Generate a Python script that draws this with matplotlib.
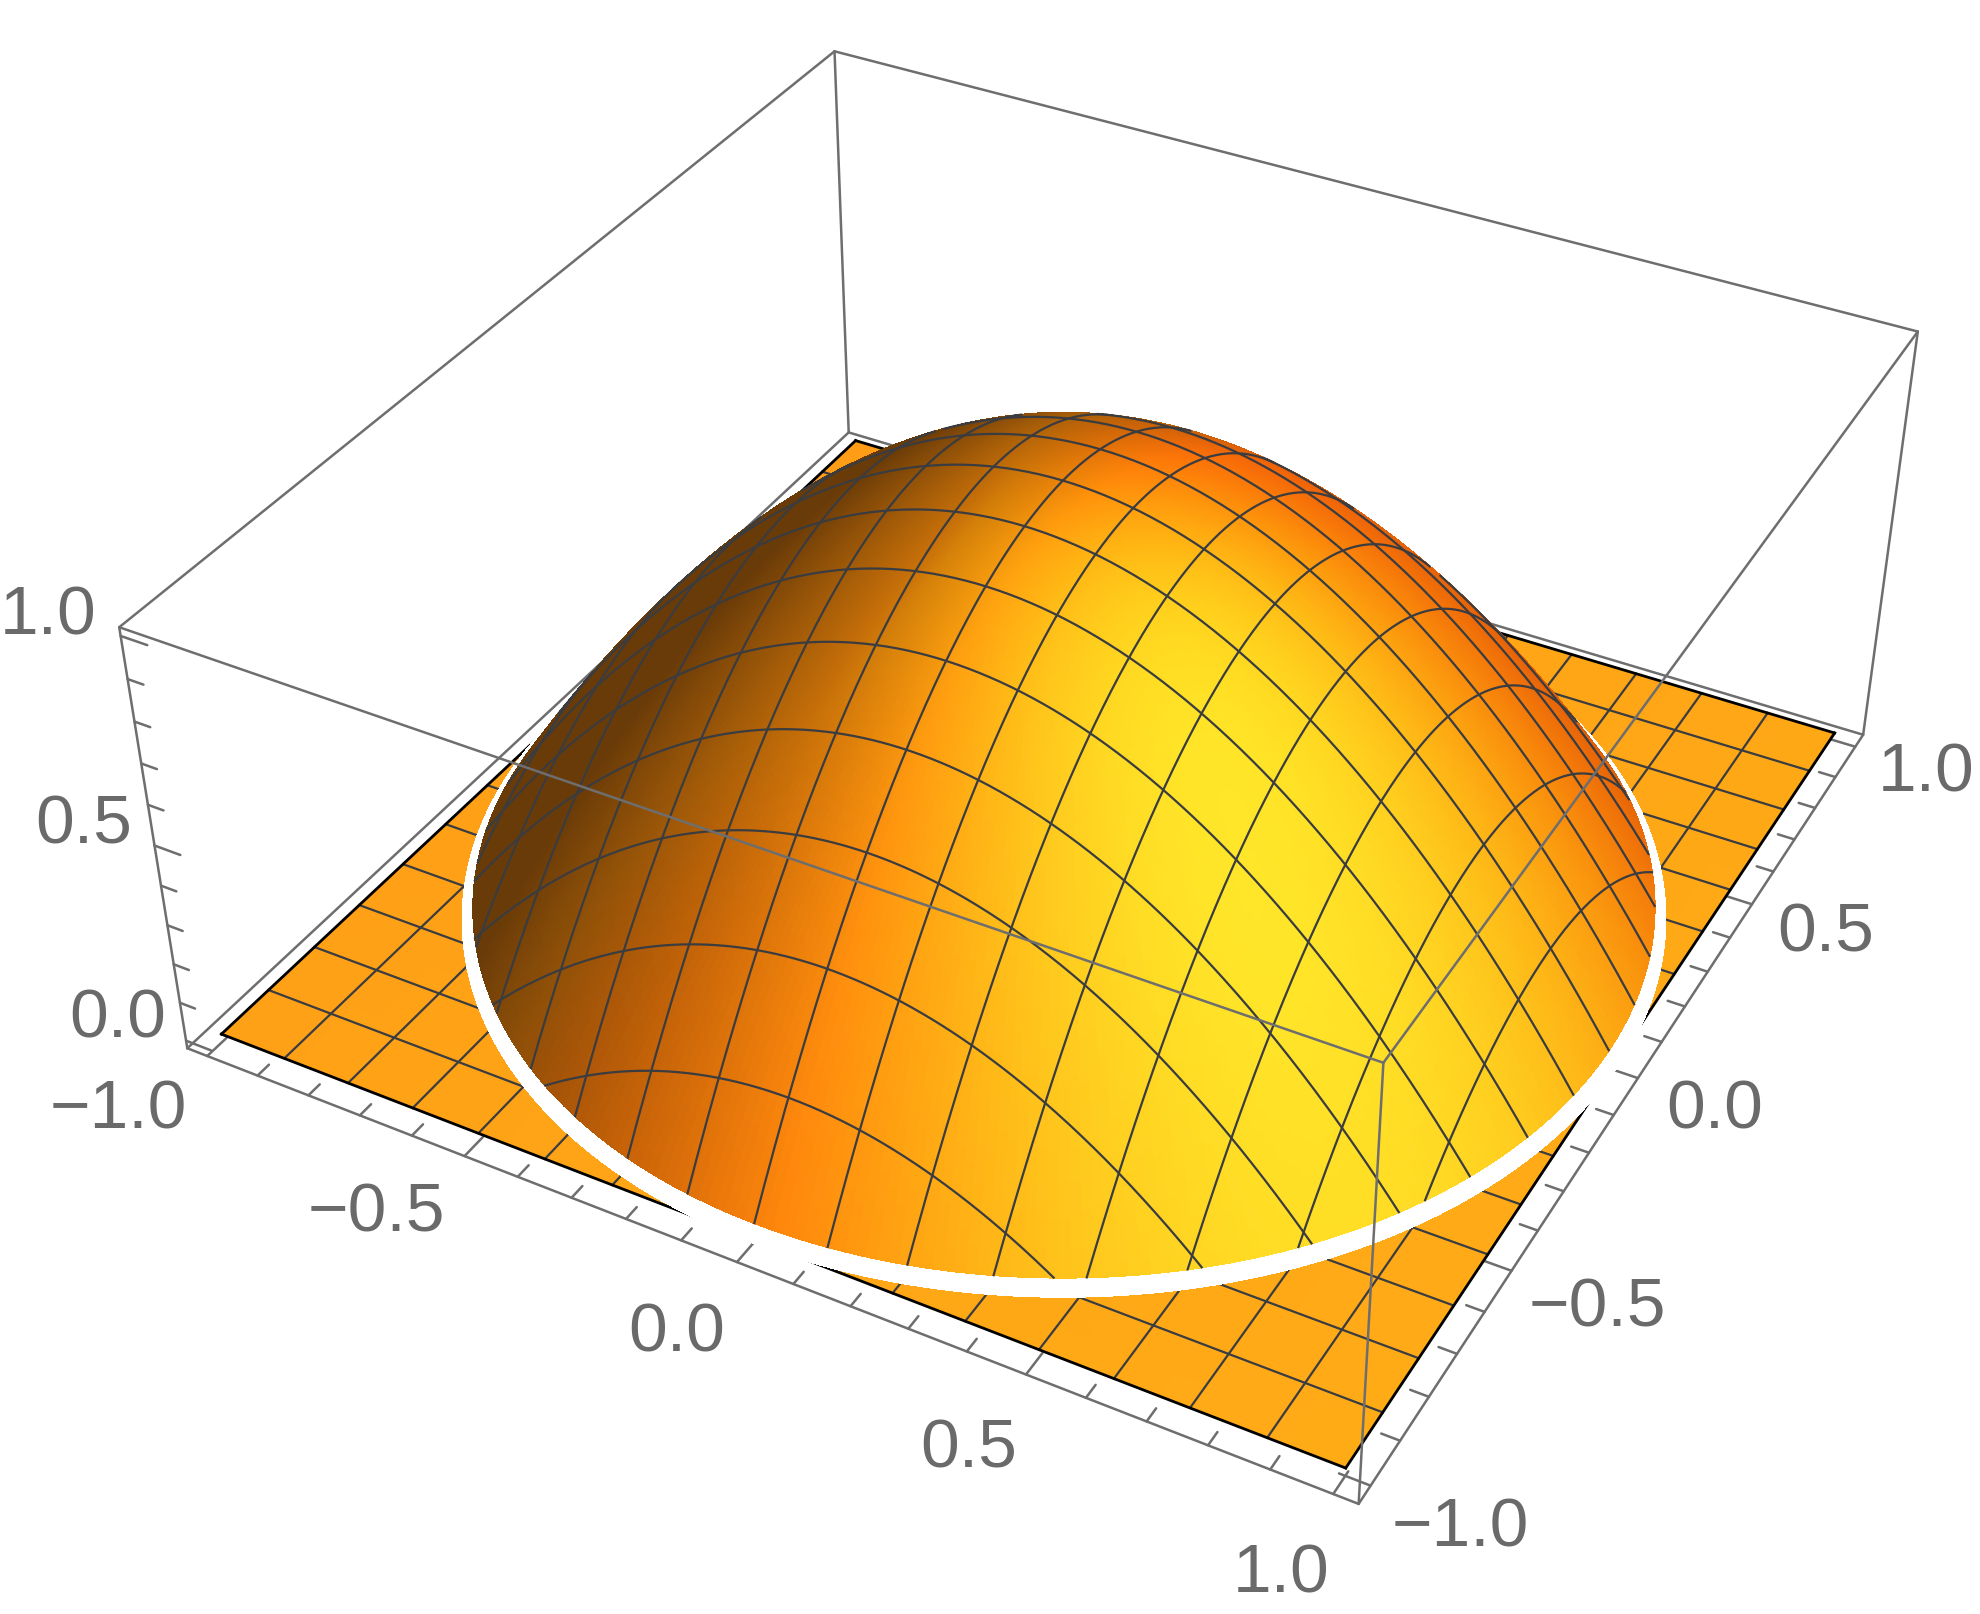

import numpy as np
import matplotlib
matplotlib.use("Agg")
import matplotlib.pyplot as plt

# ---- chart content ----
AXIS_MAJOR = [-1.0, -0.5, 0.0, 0.5, 1.0]
AXIS_MAJOR_LABELS = ["\u22121.0", "\u22120.5", "0.0", "0.5", "1.0"]
AXIS_MINOR = [-0.9, -0.8, -0.7, -0.6, -0.4, -0.3, -0.2, -0.1, 0.1, 0.2, 0.3, 0.4, 0.6, 0.7, 0.8, 0.9]
Z_MAJOR = [0.0, 0.5, 1.0]
Z_MAJOR_LABELS = ["0.0", "0.5", "1.0"]
Z_MINOR = [0.1, 0.2, 0.3, 0.4, 0.6, 0.7, 0.8, 0.9]
MESH_LEVELS = [-0.875, -0.75, -0.625, -0.5, -0.375, -0.25, -0.125, 0.0,
               0.125, 0.25, 0.375, 0.5, 0.625, 0.75, 0.875]

# ---- box limits ----
XLO, XHI = -1.04, 1.04
ZLO, ZHI = -0.02, 1.02

W, H = 1981, 1615
S = 1981 / 1568
# box corner -> reference pixel (used to fit the camera)
CORNERS = {
    (XLO, XLO, ZHI): (95, 497), (XLO, XHI, ZHI): (660, 40),
    (XHI, XHI, ZHI): (1518, 265), (XHI, XLO, ZHI): (1095, 842),
    (XLO, XLO, ZLO): (148, 830), (XLO, XHI, ZLO): (672, 345),
    (XHI, XHI, ZLO): (1475, 580), (XHI, XLO, ZLO): (1075, 1192),
}

def fit_camera():
    rows = []
    for (x, y, z), (u, v) in CORNERS.items():
        u, v = u * S, H - v * S
        rows.append([x, y, z, 1, 0, 0, 0, 0, -u*x, -u*y, -u*z, -u])
        rows.append([0, 0, 0, 0, x, y, z, 1, -v*x, -v*y, -v*z, -v])
    P = np.linalg.svd(np.array(rows))[2][-1].reshape(3, 4)
    if P[2] @ np.array([0, 0, 0.5, 1]) < 0:
        P = -P
    return P / (P[2] @ np.array([0, 0, 0.5, 1]))

P = fit_camera()
cam = np.linalg.svd(P)[2][-1]
cam = cam[:3] / cam[3]

v_dir = cam - np.array([0, 0, 0.5]); v_dir /= np.linalg.norm(v_dir)
u_dir = np.array([0, 0, 1.0]) - v_dir[2] * v_dir; u_dir /= np.linalg.norm(u_dir)
r_dir = np.cross(u_dir, v_dir)

def shade(x, y):
    nx, ny, nz = 2*x, 2*y, np.ones_like(x)
    nn = np.sqrt(nx*nx + ny*ny + nz*nz)
    nx, ny, nz = nx/nn, ny/nn, nz/nn
    cr = nx*r_dir[0] + ny*r_dir[1] + nz*r_dir[2]
    cu = nx*u_dir[0] + ny*u_dir[1] + nz*u_dir[2]
    cv = nx*v_dir[0] + ny*v_dir[1] + nz*v_dir[2]
    d1 = 0.8*cr - 0.32*cu + 0.56*cv
    d2 = 0.33*cr - 0.03*cu + 0.944*cv
    rr = 0.41 + 0.59*np.clip((d1 + 0.5)/0.75, 0, 1)
    rr = rr * (1 - 0.22*np.clip(cr, 0, 1)*np.clip(1 - cv, 0, 1)**3)
    gg = 0.28 + 0.62*np.clip(d2, 0, 1)**2.8 + 0.10*np.clip(cu, 0, 1)
    cap = 0.56*rr + 6.0*np.clip(rr - 0.75, 0, 1)**2
    gg = np.minimum(gg, cap)
    bb = 0.03 + 0.13*np.clip(d2, 0, 1)**6
    return np.dstack([np.clip(rr, 0, 1), np.clip(gg, 0, 1), np.clip(bb, 0, 1), np.ones_like(rr)])

fig = plt.figure(figsize=(W/100, H/100), dpi=100, facecolor="white")
ax = fig.add_axes([0, 0, 1, 1], projection="3d")
ax.apply_aspect = lambda position=None: None
ax.set_axis_off()
ax.computed_zorder = False
ax.set_xlim(XLO, XHI); ax.set_ylim(XLO, XHI); ax.set_zlim(ZLO, ZHI)
ax.set_autoscale_on(False)

def get_proj():
    A = ax.transData.inverted().get_matrix()
    R = A @ P
    return np.vstack([R[0], R[1], [0, 0, 0, -1.0], R[2]])
ax.get_proj = get_proj

BOX = "#6e6e6e"; MESH = "#3a3c40"; EDGE = "#000000"; TXT = "#6a6a6a"
BLW = 1.8; MLW = 1.6

def seg(a, b, z=1, color=BOX, lw=BLW):
    ax.plot([a[0], b[0]], [a[1], b[1]], [a[2], b[2]], color=color, lw=lw, zorder=z,
            solid_capstyle="round")

# back box edges
for a, b in [((XLO, XHI, ZHI), (XLO, XHI, ZLO)), ((XLO, XHI, ZLO), (XLO, XLO, ZLO)),
             ((XLO, XHI, ZLO), (XHI, XHI, ZLO)), ((XLO, XHI, ZHI), (XLO, XLO, ZHI)),
             ((XLO, XHI, ZHI), (XHI, XHI, ZHI)), ((XLO, XLO, ZHI), (XLO, XLO, ZLO)),
             ((XHI, XHI, ZHI), (XHI, XHI, ZLO)), ((XLO, XLO, ZLO), (XHI, XLO, ZLO)),
             ((XHI, XLO, ZLO), (XHI, XHI, ZLO))]:
    seg(a, b, z=1)

# ticks
MAJ, MIN = 0.05, 0.03
for t in AXIS_MAJOR + AXIS_MINOR:
    L = MAJ if t in AXIS_MAJOR else MIN
    seg((t, XLO, ZLO), (t, XLO + L, ZLO), z=1)
    seg((XHI, t, ZLO), (XHI - L, t, ZLO), z=1)
for t in Z_MAJOR + Z_MINOR:
    L = MAJ if t in Z_MAJOR else MIN
    seg((XLO, XLO, t), (XLO + L, XLO, t), z=1)

# floor z = 0
fx, fy = np.meshgrid(np.linspace(-1, 1, 41), np.linspace(-1, 1, 41))
fz = np.zeros_like(fx)
fc = np.dstack([np.ones_like(fx), 0.645 + 0.02*fx - 0.006*fy, 0.085*np.ones_like(fx), np.ones_like(fx)])
ax.plot_surface(fx, fy, fz, facecolors=fc, rstride=1, cstride=1, shade=False,
                linewidth=0.4, zorder=2, antialiased=False)

# floor mesh and boundary
for k in MESH_LEVELS:
    ax.plot([k, k], [-1, 1], [0, 0], color=MESH, lw=MLW, zorder=3)
    ax.plot([-1, 1], [k, k], [0, 0], color=MESH, lw=MLW, zorder=3)
for a, b in [((-1, -1), (1, -1)), ((1, -1), (1, 1)), ((1, 1), (-1, 1)), ((-1, 1), (-1, -1))]:
    ax.plot([a[0], b[0]], [a[1], b[1]], [0, 0], color=EDGE, lw=2.0, zorder=3)

# white hole round the dome
HOLE = 1.006
DOME = 0.987
hr = np.array([0, HOLE]); ht = np.linspace(0, 2*np.pi, 361)
hR, hT = np.meshgrid(hr, ht)
ax.plot_surface(hR*np.cos(hT), hR*np.sin(hT), np.zeros_like(hR), color="white", shade=False,
                rstride=1, cstride=1, linewidth=1.0, edgecolor="white", zorder=4, antialiased=False)

# dome z = 1 - x^2 - y^2
th = np.linspace(0, 2*np.pi, 361)
rad = np.linspace(0, DOME, 161)
T, Q = np.meshgrid(th, rad)
dx = Q*np.cos(T); dy = Q*np.sin(T); dz = 1 - dx*dx - dy*dy
ax.plot_surface(dx, dy, dz, facecolors=shade(dx, dy), rstride=1, cstride=1, shade=False,
                linewidth=0.6, zorder=5, antialiased=False)

# dome mesh: front-facing parts only
def dome_line(level, along_x):
    lim = np.sqrt(max(DOME**2 - level**2, 0))
    s = np.linspace(-lim, lim, 300)
    if along_x:
        x, y = s, np.full_like(s, level)
    else:
        x, y = np.full_like(s, level), s
    z = 1 - x*x - y*y
    # surface normal (2x, 2y, 1) against direction to the camera
    vis = 2*x*(cam[0]-x) + 2*y*(cam[1]-y) + (cam[2]-z) > 0
    z = np.where(vis, z, np.nan)
    ax.plot(x, y, z, color=MESH, lw=MLW, zorder=6)
for k in MESH_LEVELS:
    dome_line(k, True); dome_line(k, False)

# front box edges (in front of the surface)
seg((XLO, XLO, ZHI), (XHI, XLO, ZHI), z=7)
seg((XHI, XLO, ZHI), (XHI, XHI, ZHI), z=7)
seg((XHI, XLO, ZHI), (XHI, XLO, ZLO), z=7)

# tick labels
FS = 50
FAM = ["Liberation Sans", "DejaVu Sans"]
for t, s in zip(AXIS_MAJOR, AXIS_MAJOR_LABELS):
    xshift = -0.045 if t < 0 else 0.0
    yshift = 0.135 if t >= 0 else 0.145
    ax.text(t + xshift, XLO - 0.17, ZLO, s, fontsize=FS, color=TXT, family=FAM, ha="center", va="center", zorder=8)
    ax.text(XHI + yshift, t - 0.012, ZLO, s, fontsize=FS, color=TXT, family=FAM, ha="center", va="center", zorder=8)
for t, s in zip(Z_MAJOR, Z_MAJOR_LABELS):
    ax.text(XLO - 0.14, XLO, t - 0.012, s, fontsize=FS, color=TXT, family=FAM, ha="center", va="center", zorder=8)

fig.savefig("out.png", dpi=100, facecolor="white")
